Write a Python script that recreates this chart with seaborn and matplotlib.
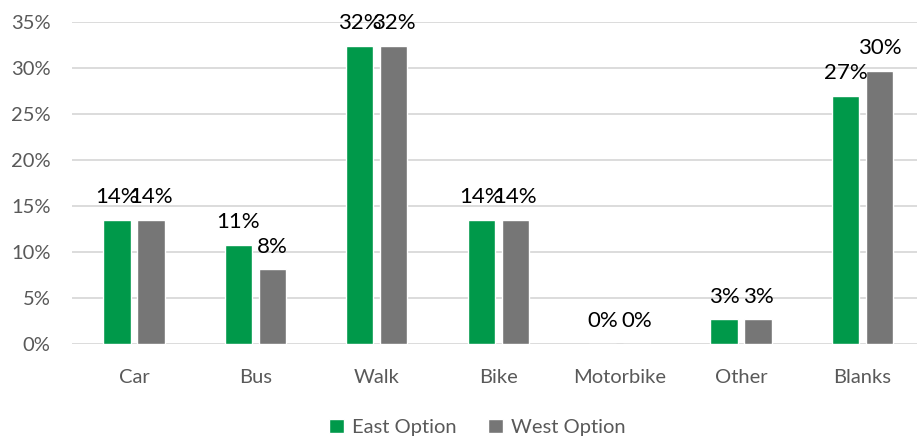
import numpy as np
import pandas as pd
import matplotlib
matplotlib.use("Agg")
import matplotlib.pyplot as plt
import seaborn as sns
from matplotlib.ticker import PercentFormatter

# Data (share of respondents, %)
modes = ["Car", "Bus", "Walk", "Bike", "Motorbike", "Other", "Blanks"]
east_option = [13.5, 10.8, 32.4, 13.5, 0.0, 2.7, 27.0]
west_option = [13.5, 8.1, 32.4, 13.5, 0.0, 2.7, 29.7]
series_names = ["East Option", "West Option"]
colors = ["#00994A", "#767676"]

df = pd.DataFrame({
    "mode": modes * 2,
    "share": east_option + west_option,
    "option": [series_names[0]] * len(modes) + [series_names[1]] * len(modes),
})

sns.set_style("white")
plt.rcParams["font.family"] = ["Lato", "DejaVu Sans"]

fig = plt.figure(figsize=(9.17, 4.41), dpi=100)
ax = fig.add_axes([0.078, 0.22, 0.922, 0.73])

sns.barplot(data=df, x="mode", y="share", hue="option", palette=colors,
            width=0.56, gap=0.2, ax=ax, saturation=1, legend=True)

# data labels
for cont in ax.containers:
    ax.bar_label(cont, labels=[f"{v:.0f}%" for v in cont.datavalues],
                 fontsize=16, color="black", padding=9)

ax.set_ylim(0, 35)
ax.set_yticks(np.arange(0, 36, 5))
ax.yaxis.set_major_formatter(PercentFormatter(decimals=0))
ax.grid(axis="y", color="#D9D9D9", linewidth=1.3)
ax.set_axisbelow(True)
for s in ax.spines.values():
    s.set_visible(False)
ax.tick_params(axis="both", length=0, labelsize=14.5, labelcolor="#595959")
ax.tick_params(axis="x", pad=18)
ax.tick_params(axis="y", pad=15)
ax.set_xlabel("")
ax.set_ylabel("")
ax.set_xlim(-0.515, 6.45)

ax.legend(loc="center", bbox_to_anchor=(0.48, -0.26), ncol=2, frameon=False,
          fontsize=14.5, labelcolor="#595959", handlelength=0.7, handleheight=0.7,
          handletextpad=0.4, columnspacing=1.6)

fig.savefig("out.png", dpi=100)
